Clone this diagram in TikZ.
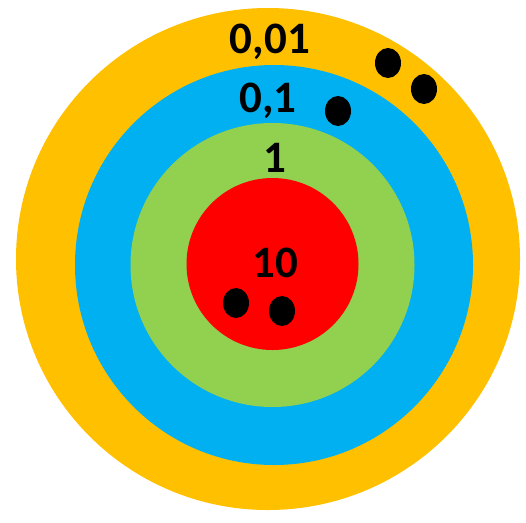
\documentclass[tikz,border=0pt]{standalone}
\usepackage{fontspec}
\setmainfont{Carlito}
\begin{document}
\begin{tikzpicture}[x=1pt, y=-1pt,
  ring/.style={draw=none},
  hit/.style={fill=black},
  lab/.style={anchor=base, inner sep=0pt, font=\fontsize{45}{54}\selectfont\bfseries}]
  \definecolor{ringorange}{HTML}{FFC000}
  \definecolor{ringblue}{HTML}{00B0F0}
  \definecolor{ringgreen}{HTML}{92D050}
  \definecolor{ringred}{HTML}{FF0000}
  % page: white, 526 x 522
  \fill[white] (0,0) rectangle (526,522);
  \useasboundingbox (0,0) rectangle (526,522);
  % rings, outside in
  \fill[ringorange] (268,259) ellipse (252 and 251);
  \fill[ringblue]   (274,265) ellipse (199 and 200);
  \fill[ringgreen]  (272.5,265) ellipse (142 and 142);
  \fill[ringred]    (272.5,264) ellipse (86 and 86);
  % values of the rings
  \node[lab] (v001) at (270,53)  {0,01};
  \node[lab] (v01)  at (268,112) {0,1};
  \node[lab] (v1)   at (275,172) {1};
  \node[lab] (v10)  at (275,277) {10};
  % hits
  \fill[hit] (388,63)  ellipse (13 and 15);
  \fill[hit] (424,89)  ellipse (13 and 15);
  \fill[hit] (338,111) ellipse (13 and 15);
  \fill[hit] (236,303) ellipse (13 and 15);
  \fill[hit] (282,311) ellipse (13 and 15);
\end{tikzpicture}
\end{document}
